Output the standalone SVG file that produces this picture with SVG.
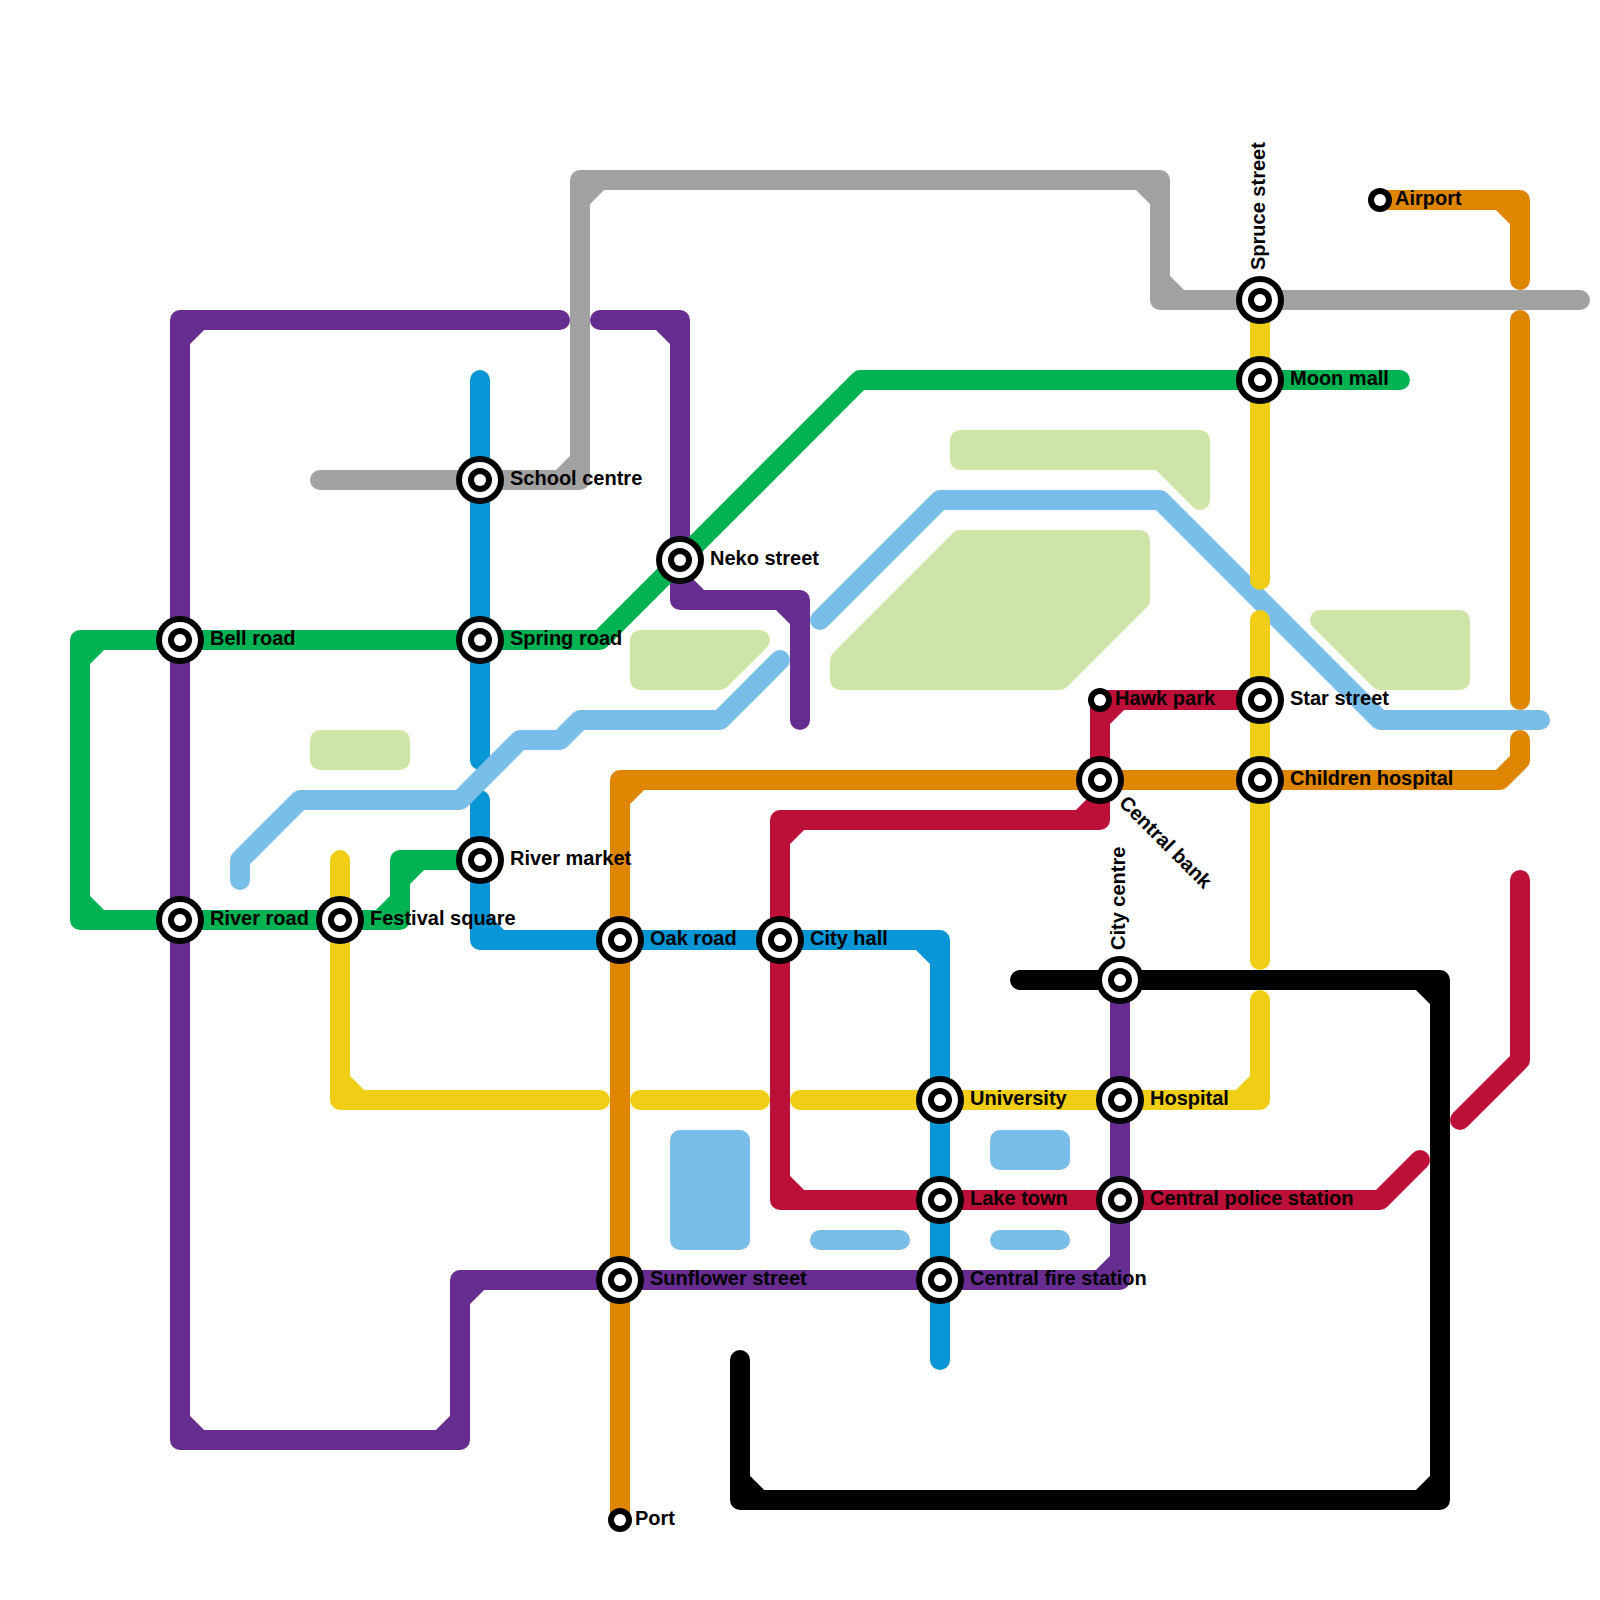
<svg xmlns="http://www.w3.org/2000/svg" width="1600" height="1600" viewBox="0 0 1600 1600">
<style>
.l{fill:none;stroke-width:20;stroke-linecap:round;stroke-linejoin:round}
.park{stroke:#cfe4a7;fill:#cfe4a7}
.water{stroke:#79bde9;fill:#79bde9}
.b{stroke-width:20;stroke-linecap:round;stroke-linejoin:round}
.green{stroke:#00b251}.purple{stroke:#662c90}.blue{stroke:#0896d7}.lb{stroke:#79bde9}.yellow{stroke:#f0ce15}.orange{stroke:#df8600}.gray{stroke:#a2a2a2}.red{stroke:#bd1038}.black{stroke:#000}
.o{fill:#000}.w{fill:#fff}
text{font-family:"Liberation Sans",Arial,sans-serif;font-size:20px;font-weight:bold;fill:#000}
</style>
<defs>
<g id="ix"><circle r="24" class="o"/><circle r="18" class="w"/><circle r="12" class="o"/><circle r="6" class="w"/></g>
<g id="sm"><circle r="12" class="o"/><circle r="6" class="w"/></g>
</defs>
<g id="background">
<path class="b park" d="M320 740H400V760H320Z"/>
<path class="b park" d="M640 640H760L720 680H640Z"/>
<path class="b park" d="M960 540H1140V600L1060 680H840V660Z"/>
<path class="b park" d="M960 440H1200V500L1160 460H960Z"/>
<path class="b park" d="M1320 620H1460V680H1380Z"/>
<path class="b water" d="M680 1140H740V1240H680Z"/>
<path class="b water" d="M1000 1140H1060V1160H1000Z"/>
<path class="b water" d="M820 1240H900"/>
<path class="b water" d="M1000 1240H1060"/>
</g>
<g id="connectors">
<path id="line-purple-a" class="l purple" d="M560 320H180V1440H460V1280H1120V980M180 340L200 320M180 1420L200 1440M440 1440L460 1420M460 1300L480 1280M1100 1280L1120 1260"/>
<path id="line-purple-b" class="l purple" d="M600 320H680V600H800V720M660 320L680 340M680 580L700 600M780 600L800 620"/>
<path id="line-green" class="l green" d="M1400 380H860L600 640H80V920H400V860H480M80 660L100 640M80 900L100 920M380 920L400 900M400 880L420 860"/>
<path id="line-blue-a" class="l blue" d="M480 380V760"/>
<path id="line-blue-b" class="l blue" d="M480 800V940H940V1360M480 920L500 940M920 940L940 960"/>
<path id="line-lb-a" class="l lb" d="M240 880V860L300 800H460L520 740H560L580 720H720L780 660"/>
<path id="line-lb-b" class="l lb" d="M820 620L940 500H1160L1380 720H1540"/>
<path id="line-yellow-a" class="l yellow" d="M340 860V1100H600M340 1080L360 1100"/>
<path id="line-yellow-b" class="l yellow" d="M640 1100H760"/>
<path id="line-yellow-c" class="l yellow" d="M800 1100H1260V1000M1240 1100L1260 1080"/>
<path id="line-yellow-d" class="l yellow" d="M1260 960V620"/>
<path id="line-yellow-e" class="l yellow" d="M1260 580V300"/>
<path id="line-orange-a" class="l orange" d="M1380 200H1520V280M1500 200L1520 220"/>
<path id="line-orange-b" class="l orange" d="M1520 320V700"/>
<path id="line-orange-c" class="l orange" d="M1520 740V760L1500 780H620V1520M620 800L640 780"/>
<path id="line-gray" class="l gray" d="M320 480H580V180H1160V300H1580M560 480L580 460M580 200L600 180M1140 180L1160 200M1160 280L1180 300"/>
<path id="line-red-a" class="l red" d="M1260 700H1100V820H780V1200H1380L1420 1160M1100 720L1120 700M1080 820L1100 800M780 840L800 820M780 1180L800 1200"/>
<path id="line-red-b" class="l red" d="M1460 1120L1520 1060V880"/>
<path id="line-black" class="l black" d="M1020 980H1440V1500H740V1360M1420 980L1440 1000M1420 1500L1440 1480M740 1480L760 1500"/>
</g>
<g id="st-bell-road"><use href="#ix" x="180" y="640"/><text x="210" y="645">Bell road</text></g>
<g id="st-river-road"><use href="#ix" x="180" y="920"/><text x="210" y="925">River road</text></g>
<g id="st-festival-square"><use href="#ix" x="340" y="920"/><text x="370" y="925">Festival square</text></g>
<g id="st-school-centre"><use href="#ix" x="480" y="480"/><text x="510" y="485">School centre</text></g>
<g id="st-spring-road"><use href="#ix" x="480" y="640"/><text x="510" y="645">Spring road</text></g>
<g id="st-river-market"><use href="#ix" x="480" y="860"/><text x="510" y="865">River market</text></g>
<g id="st-neko-street"><use href="#ix" x="680" y="560"/><text x="710" y="565">Neko street</text></g>
<g id="st-oak-road"><use href="#ix" x="620" y="940"/><text x="650" y="945">Oak road</text></g>
<g id="st-city-hall"><use href="#ix" x="780" y="940"/><text x="810" y="945">City hall</text></g>
<g id="st-sunflower-street"><use href="#ix" x="620" y="1280"/><text x="650" y="1285">Sunflower street</text></g>
<g id="st-university"><use href="#ix" x="940" y="1100"/><text x="970" y="1105">University</text></g>
<g id="st-lake-town"><use href="#ix" x="940" y="1200"/><text x="970" y="1205">Lake town</text></g>
<g id="st-central-fire-station"><use href="#ix" x="940" y="1280"/><text x="970" y="1285">Central fire station</text></g>
<g id="st-hospital"><use href="#ix" x="1120" y="1100"/><text x="1150" y="1105">Hospital</text></g>
<g id="st-central-police-station"><use href="#ix" x="1120" y="1200"/><text x="1150" y="1205">Central police station</text></g>
<g id="st-city-centre"><use href="#ix" x="1120" y="980"/><text transform="translate(1125 950) rotate(-90)">City centre</text></g>
<g id="st-central-bank"><use href="#ix" x="1100" y="780"/><text transform="translate(1118 804) rotate(45)">Central bank</text></g>
<g id="st-spruce-street"><use href="#ix" x="1260" y="300"/><text transform="translate(1265 270) rotate(-90)">Spruce street</text></g>
<g id="st-moon-mall"><use href="#ix" x="1260" y="380"/><text x="1290" y="385">Moon mall</text></g>
<g id="st-star-street"><use href="#ix" x="1260" y="700"/><text x="1290" y="705">Star street</text></g>
<g id="st-children-hospital"><use href="#ix" x="1260" y="780"/><text x="1290" y="785">Children hospital</text></g>
<g id="st-airport"><use href="#sm" x="1380" y="200"/><text x="1395" y="205">Airport</text></g>
<g id="st-hawk-park"><use href="#sm" x="1100" y="700"/><text x="1115" y="705">Hawk park</text></g>
<g id="st-port"><use href="#sm" x="620" y="1520"/><text x="635" y="1525">Port</text></g>
</svg>
